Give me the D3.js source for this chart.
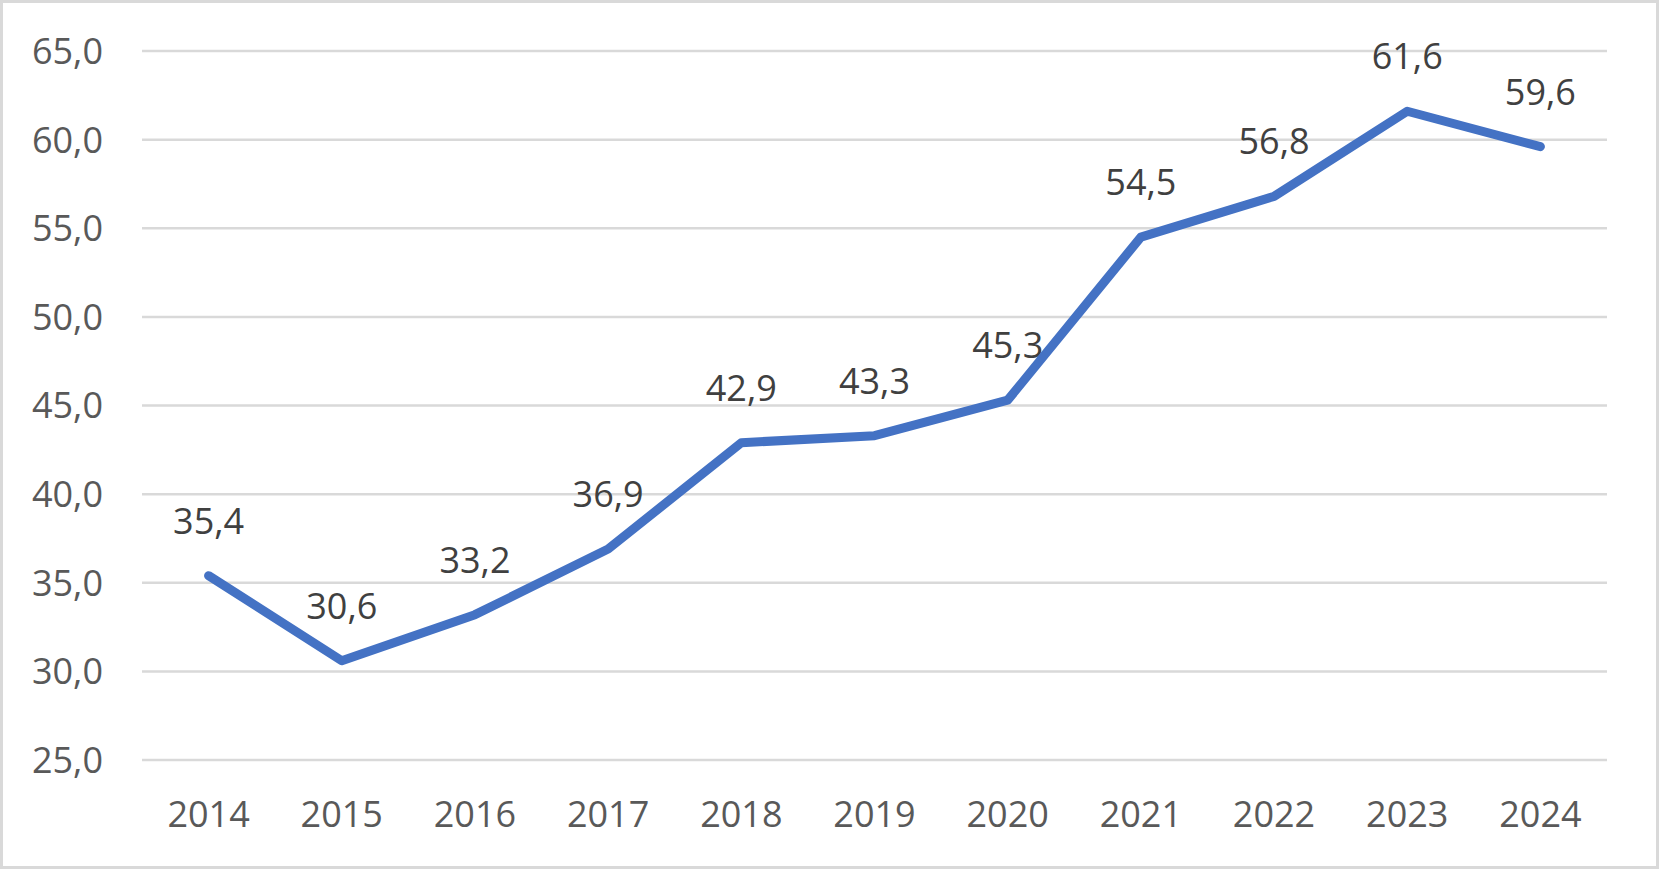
<!DOCTYPE html>
<html>
<head>
<meta charset="utf-8">
<script src="https://cdn.jsdelivr.net/npm/d3@7"></script>
<style>
  html, body { margin: 0; padding: 0; background: #fff; }
  svg { display: block; }
</style>
</head>
<body>
<svg id="chart" width="1659" height="869"></svg>
<script>
const years = ["2014","2015","2016","2017","2018","2019","2020","2021","2022","2023","2024"];
const values = [35.4, 30.6, 33.2, 36.9, 42.9, 43.3, 45.3, 54.5, 56.8, 61.6, 59.6];
const yTicks = [25, 30, 35, 40, 45, 50, 55, 60, 65];

const W = 1659, H = 869;
const plot = { left: 142, right: 1607, top: 51, bottom: 760 };
const svg = d3.select("#chart");
const fmt = v => d3.format(".1f")(v).replace(".", ",");
const FONT = "'Open Sans', sans-serif";

svg.append("rect").attr("x", 1.5).attr("y", 1.5).attr("width", W - 3).attr("height", H - 3)
  .attr("fill", "#fff").attr("stroke", "#d9d9d9").attr("stroke-width", 3);

const x = d3.scaleBand().domain(years).range([plot.left, plot.right]);
const y = d3.scaleLinear().domain([25, 65]).range([plot.bottom, plot.top]);
const cx = d => x(d) + x.bandwidth() / 2;

// gridlines
svg.append("g").selectAll("line").data(yTicks).join("line")
  .attr("x1", plot.left).attr("x2", plot.right)
  .attr("y1", d => y(d)).attr("y2", d => y(d))
  .attr("stroke", "#d9d9d9").attr("stroke-width", 2.5);

// y labels
svg.append("g").selectAll("text").data(yTicks).join("text")
  .attr("x", 103).attr("y", d => y(d)).attr("dy", "0.36em")
  .attr("text-anchor", "end")
  .attr("font-family", FONT).attr("font-size", 36).attr("fill", "#595959")
  .text(d => fmt(d));

// x labels
svg.append("g").selectAll("text").data(years).join("text")
  .attr("x", d => cx(d)).attr("y", 827)
  .attr("text-anchor", "middle")
  .attr("font-family", FONT).attr("font-size", 36).attr("fill", "#595959")
  .text(d => d);

// data labels (drawn under the line)
svg.append("g").selectAll("text").data(values).join("text")
  .attr("x", (d, i) => cx(years[i])).attr("y", d => y(d) - 42)
  .attr("text-anchor", "middle")
  .attr("font-family", FONT).attr("font-size", 36).attr("fill", "#404040")
  .text(d => fmt(d));

// line
const line = d3.line().x((d, i) => cx(years[i])).y(d => y(d));
svg.append("path").datum(values)
  .attr("d", line)
  .attr("fill", "none").attr("stroke", "#4472C4").attr("stroke-width", 9)
  .attr("stroke-linejoin", "round").attr("stroke-linecap", "round");
</script>
</body>
</html>
